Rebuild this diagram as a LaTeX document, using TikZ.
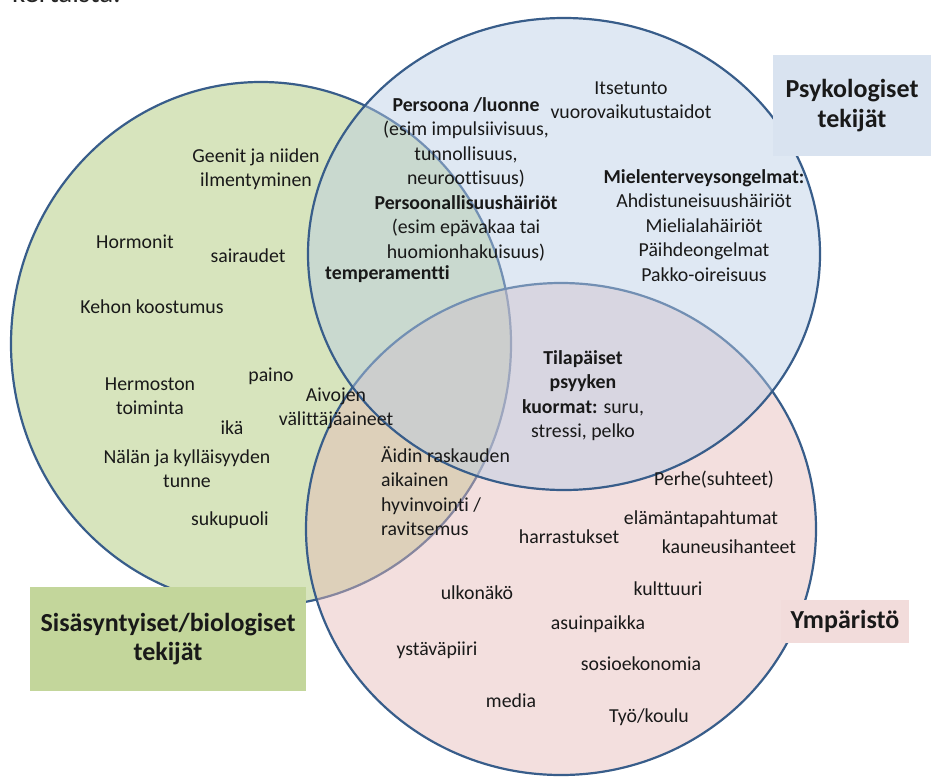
\documentclass[tikz,border=0pt]{standalone}
\usepackage{fontspec}
\setmainfont{Carlito}[Ligatures=NoCommon]
\definecolor{gfill}{RGB}{215,228,189}
\definecolor{pfill}{RGB}{230,185,184}
\definecolor{bfill}{RGB}{185,205,229}
\definecolor{vline}{RGB}{56,93,138}
\definecolor{psybox}{RGB}{217,227,240}
\definecolor{biobox}{RGB}{195,214,155}
\definecolor{ympbox}{RGB}{242,220,219}
\definecolor{ink}{RGB}{25,25,25}
\begin{document}
\begin{tikzpicture}[x=1pt,y=-1pt,
  txt/.style={inner sep=0pt, font=\fontsize{19.8}{24.5}\selectfont, text=ink},
  one/.style={txt, anchor=base},
  blk/.style={txt, anchor=north, align=center, yshift=17.15pt},
  blkl/.style={txt, anchor=north west, align=left, yshift=17.15pt},
  ttlbox/.style={inner sep=0pt, font=\fontsize{26}{29.5}\selectfont\bfseries, align=center, text=ink},
  venn/.style={draw=vline, line width=2.2pt}]
\useasboundingbox (0,0) rectangle (931,776);
\fill[white] (0,0) rectangle (931,776);
\node[anchor=base west, inner sep=0pt, font=\fontsize{29}{32}\selectfont, text=black!85] (topline) at (12,3) {kertaista:};
% circles
\draw[venn, fill=gfill] (261,344) ellipse [x radius=250pt, y radius=262pt];
\draw[venn, fill=pfill, fill opacity=0.45] (561,529) ellipse [x radius=255pt, y radius=246pt];
\draw[venn, fill=bfill, fill opacity=0.45] (564,254) ellipse [x radius=256pt, y radius=236pt];
% title boxes
\node[ttlbox, fill=psybox, minimum width=158pt, minimum height=101pt] (psy) at (852,105.5) {Psykologiset\\tekijät};
\node[ttlbox, fill=biobox, minimum width=276pt, minimum height=104pt] (bio) at (168,639) {Sisäsyntyiset/biologiset\\tekijät};
\node[ttlbox, fill=ympbox, minimum width=128pt, minimum height=43pt] (ymp) at (845,621.5) {Ympäristö};
% green texts
\node[blk] (geenit) at (256,162) {\strut Geenit ja niiden\\ilmentyminen};
\node[one] (hormonit) at (135,248) {Hormonit};
\node[one] (sairaudet) at (248,262) {sairaudet};
\node[one] (kehon) at (152,313) {Kehon koostumus};
\node[blk] (hermoston) at (150,390) {\strut Hermoston\\toiminta};
\node[one] (paino) at (271,381) {paino};
\node[blk] (aivojen) at (336,401) {\strut Aivojen\\välittäjäaineet};
\node[one] (ika) at (232,434) {ikä};
\node[blk] (nalan) at (187,463) {\strut Nälän ja kylläisyyden\\tunne};
\node[one] (sukupuoli) at (230,525) {sukupuoli};
% overlaps
\node[blk] (persoona) at (466,111) {\strut\textbf{Persoona /luonne}\\(esim impulsiivisuus,\\tunnollisuus,\\neuroottisuus)\\\textbf{Persoonallisuushäiriöt}\\(esim epävakaa tai\\huomionhakuisuus)};
\node[one, anchor=base west, font=\fontsize{19.8}{24.5}\selectfont\bfseries] (temper) at (325,279) {temperamentti};
\node[blkl] (aidin) at (381,462) {\strut Äidin raskauden\\aikainen\\hyvinvointi /\\ravitsemus};
\node[blk] (tilap) at (583,364) {\strut\textbf{Tilapäiset}\\\textbf{psyyken}\\\textbf{kuormat:} suru,\\stressi, pelko};
% blue texts
\node[blk] (itse) at (631,94) {\strut Itsetunto\\vuorovaikutustaidot};
\node[blk] (mielen) at (704,183) {\strut\textbf{Mielenterveysongelmat:}\\Ahdistuneisuushäiriöt\\Mielialahäiriöt\\Päihdeongelmat\\Pakko-oireisuus};
% pink texts
\node[one] (perhe) at (714,485) {Perhe(suhteet)};
\node[one] (elama) at (701,524) {elämäntapahtumat};
\node[one] (harr) at (569,543) {harrastukset};
\node[one] (kaun) at (729,553) {kauneusihanteet};
\node[one] (kult) at (668,595) {kulttuuri};
\node[one] (ulko) at (477,599) {ulkonäkö};
\node[one] (asuin) at (598,629) {asuinpaikka};
\node[one] (ystava) at (437,655) {ystäväpiiri};
\node[one] (sosio) at (641,670) {sosioekonomia};
\node[one] (media) at (511,707) {media};
\node[one] (tyo) at (649,722) {Työ/koulu};
\end{tikzpicture}
\end{document}
